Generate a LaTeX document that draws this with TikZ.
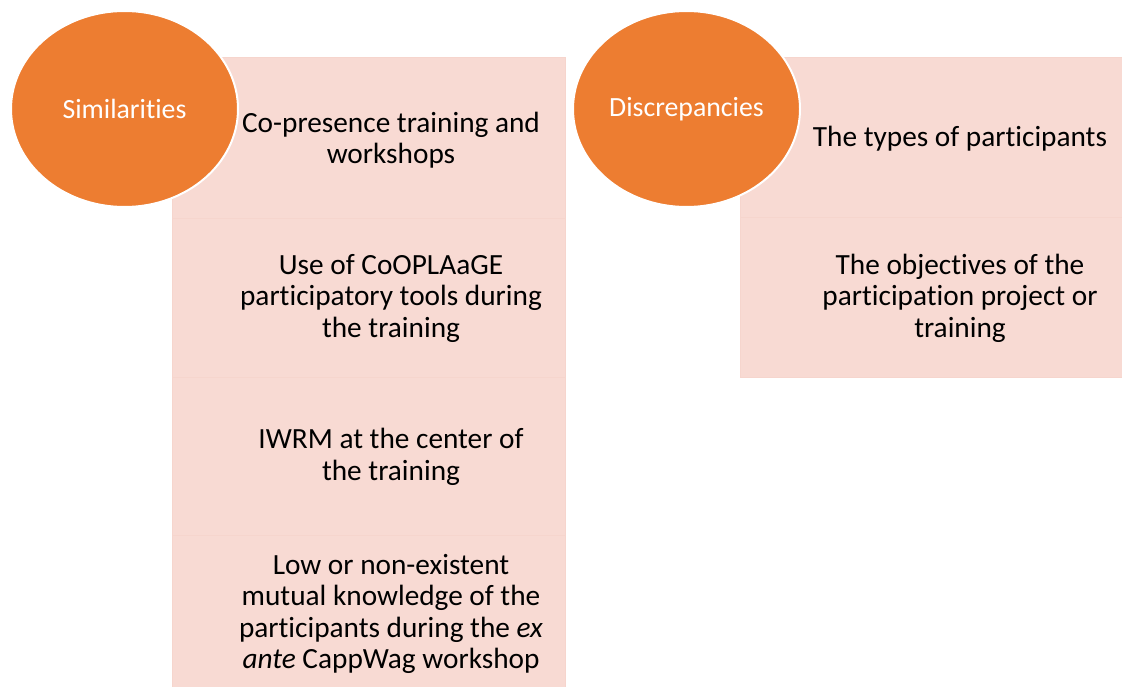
\documentclass[tikz,border=0pt]{standalone}
\usepackage{fontspec}
\setmainfont{Carlito}[Ligatures=NoCommon]
\usetikzlibrary{shapes.geometric}
\definecolor{orangefill}{HTML}{ED7D31}
\definecolor{pinkfill}{HTML}{F8DAD3}
\definecolor{pinkline}{HTML}{F6D5CD}
\tikzset{
  rowbox/.style={rectangle, fill=pinkfill, draw=pinkline, line width=1pt, inner sep=0pt},
  rowtext/.style={align=center, text=black, inner sep=0pt,
    font=\fontsize{29.3}{31.5}\selectfont},
  headoval/.style={ellipse, fill=orangefill, draw=white, line width=2pt,
    minimum width=227pt, minimum height=196pt, inner sep=0pt,
    text=white, font=\fontsize{27.8}{31}\selectfont},
}
\begin{document}
\begin{tikzpicture}[x=1pt,y=-1pt]
\useasboundingbox (0,0) rectangle (1122,687);
% left column
\node[rowbox, minimum width=393pt, minimum height=161pt, anchor=north west] (l1) at (172,57) {};
\node[rowbox, minimum width=393pt, minimum height=159pt, anchor=north west] (l2) at (172,218) {};
\node[rowbox, minimum width=393pt, minimum height=158pt, anchor=north west] (l3) at (172,377) {};
\node[rowbox, minimum width=393pt, minimum height=155pt, anchor=north west] (l4) at (172,535) {};
% right column
\node[rowbox, minimum width=384pt, minimum height=160pt, anchor=north west] (r1) at (740,57) {};
\node[rowbox, minimum width=384pt, minimum height=160pt, anchor=north west] (r2) at (740,217) {};
% texts
\node[rowtext] (t1) at (391,140) {Co-presence training and\\workshops};
\node[rowtext] (t2) at (391,298) {Use of CoOPLAaGE\\participatory tools during\\the training};
\node[rowtext] (t3) at (391,457) {IWRM at the center of\\the training};
\node[rowtext] (t4) at (391,614) {Low or non-existent\\mutual knowledge of the\\participants during the \emph{ex}\\\emph{ante} CappWag workshop};
\node[rowtext] (u1) at (960,139) {The types of participants};
\node[rowtext] (u2) at (960,298) {The objectives of the\\participation project or\\training};
% ovals
\node[headoval] (sim) at (124.5,109) {Similarities};
\node[headoval] (dis) at (686.5,109) {Discrepancies};
\end{tikzpicture}
\end{document}
